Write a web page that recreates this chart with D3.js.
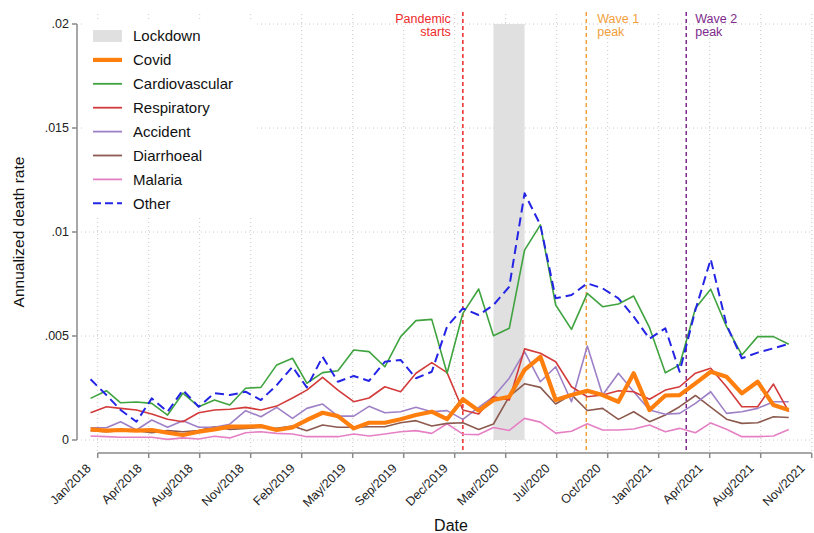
<!DOCTYPE html>
<html>
<head>
<meta charset="utf-8">
<script src="https://cdn.jsdelivr.net/npm/d3@7"></script>
<style>
  html, body { margin: 0; padding: 0; background: #fff; }
  svg { display: block; font-family: "Liberation Sans", Arial, Helvetica, sans-serif; }
</style>
</head>
<body>
<svg id="chart" width="814" height="533"></svg>
<script>
// ---------- DATA (rates shown in units of 1/1000) ----------
const months = [
  "2018-01","2018-02","2018-03","2018-04","2018-05","2018-06","2018-07","2018-08","2018-09","2018-10","2018-11","2018-12",
  "2019-01","2019-02","2019-03","2019-04","2019-05","2019-06","2019-07","2019-08","2019-09","2019-10","2019-11","2019-12",
  "2020-01","2020-02","2020-03","2020-04","2020-05","2020-06","2020-07","2020-08","2020-09","2020-10","2020-11","2020-12",
  "2021-01","2021-02","2021-03","2021-04","2021-05","2021-06","2021-07","2021-08","2021-09","2021-10"
];
const covid = [0.51,0.45,0.48,0.45,0.48,0.35,0.24,0.40,0.51,0.64, 0.64,0.67,0.48,0.61,0.96,1.31,1.15,0.56,0.83,0.83,
  1.00,1.20,1.36,1.00,1.96,1.41,1.92,2.08,3.37,4.00, 1.92,2.16,2.37,2.16,1.84,3.21,1.44,2.14,2.16,2.72, 3.28,3.04,2.24,2.80,1.68,1.44];
const cardiovascular = [2.00,2.37,1.79,1.83,1.76,1.20,2.25,1.60,1.92,1.68, 2.49,2.53,3.61,3.93,2.73,3.24,3.33,4.33,4.25,3.52,
  4.97,5.74,5.80,3.21,6.09,7.26,5.01,5.37,9.13,10.34, 6.49,5.32,7.05,6.41,6.54,6.92,5.40,3.23,3.61,6.33, 7.25,5.45,4.09,4.97,4.97,4.60];
const respiratory = [1.31,1.60,1.52,1.44,1.25,1.00,0.88,1.31,1.44,1.48, 1.57,1.44,1.63,2.02,2.40,3.01,2.40,1.84,2.02,2.56,
  2.32,3.21,3.72,3.24,1.44,1.25,2.08,1.92,4.38,4.17, 3.76,2.56,2.08,2.16,2.37,2.32,1.96,2.40,2.56,3.21, 3.45,2.56,1.60,1.60,2.69,1.36];
const accident = [0.59,0.59,0.88,0.48,0.96,0.61,0.93,0.61,0.61,0.76, 1.41,1.12,1.57,1.04,1.52,1.73,1.15,1.15,1.62,1.31,
  1.36,1.57,1.36,1.41,0.99,1.57,2.08,2.97,4.25,2.80, 3.52,1.84,4.52,2.16,3.21,2.32,1.44,1.24,1.28,1.76, 2.32,1.28,1.36,1.52,1.84,1.84];
const diarrhoeal = [0.45,0.40,0.45,0.45,0.35,0.45,0.40,0.45,0.64,0.51, 0.56,0.61,0.56,0.67,0.45,0.72,0.61,0.61,0.64,0.64,
  0.83,0.93,0.67,0.80,0.83,0.51,0.77,2.10,2.70,2.53, 1.73,2.18,1.42,1.52,0.99,1.36,0.88,1.20,1.60,2.14, 1.58,1.00,0.80,0.83,1.12,1.08];
const malaria = [0.19,0.16,0.13,0.13,0.13,0.03,0.10,0.05,0.18,0.10, 0.35,0.40,0.32,0.29,0.16,0.16,0.16,0.29,0.19,0.29,
  0.40,0.45,0.32,0.78,0.28,0.26,0.60,0.46,1.04,0.86, 0.33,0.42,0.78,0.48,0.48,0.53,0.72,0.40,0.56,0.35, 0.82,0.52,0.16,0.16,0.19,0.51];
const other = [2.92,2.16,1.44,0.88,2.00,1.36,2.40,1.60,2.25,2.16, 2.32,1.92,2.64,3.52,2.53,4.00,2.80,3.08,2.84,3.76,
  3.85,2.97,3.28,5.45,6.33,6.01,6.49,7.37,11.86,10.34, 6.81,6.97,7.53,7.29,6.81,5.93,4.87,5.37,3.28,6.25, 8.69,5.53,3.93,4.20,4.41,4.62];

const seriesNames = ["Covid","Cardiovascular","Respiratory","Accident","Diarrhoeal","Malaria","Other"];
const seriesValues = [covid, cardiovascular, respiratory, accident, diarrhoeal, malaria, other];

const xTickLabels = ["Jan/2018","Apr/2018","Aug/2018","Nov/2018","Feb/2019","May/2019","Sep/2019","Dec/2019",
  "Mar/2020","Jul/2020","Oct/2020","Jan/2021","Apr/2021","Aug/2021","Nov/2021"];
const xTickStart = "2018-01-15";   // ticks every 100 days
const xTickStepDays = 100;
const yTickValues = [0, 0.005, 0.01, 0.015, 0.02];
const yTickLabels = ["0", ".005", ".01", ".015", ".02"];

const lockdown = ["2020-03-01", "2020-05-01"];
const events = [
  {date: "2020-01-01", label: ["Pandemic", "starts"]},
  {date: "2020-08-30", label: ["Wave 1", "peak"]},
  {date: "2021-03-14", label: ["Wave 2", "peak"]}
];

// ---------- STYLES ----------
const colors = {
  Covid: "#ff7f0e", Cardiovascular: "#3fa33f", Respiratory: "#d33b3b", Accident: "#9e80c6",
  Diarrhoeal: "#8c5a4e", Malaria: "#e680c4", Other: "#2424e6"
};
const widths = {Covid: 4.2, Cardiovascular: 1.6, Respiratory: 1.6, Accident: 1.6, Diarrhoeal: 1.6, Malaria: 1.6, Other: 2};
const eventStyles = [
  {color: "#ee2a2a", anchor: "end", dx: -12},
  {color: "#f2a03c", anchor: "start", dx: 11},
  {color: "#7d2a8c", anchor: "start", dx: 9}
];

// ---------- SCALES ----------
const parse = d3.utcParse("%Y-%m-%d");
const parseM = d3.utcParse("%Y-%m");
const t0 = parse(xTickStart);
const tickDates = xTickLabels.map((_, k) => d3.utcDay.offset(t0, k * xTickStepDays));

const x = d3.scaleUtc().domain([tickDates[0], tickDates[tickDates.length - 1]]).range([97.7, 811.7]);
const y = d3.scaleLinear().domain([0, 0.02]).range([440, 24]);
const plotTop = 12, plotBottom = 453, plotLeft = 77, plotRight = 812;

const svg = d3.select("#chart");

// gridlines
const grid = svg.append("g");
grid.selectAll("line.h").data(yTickValues).join("line")
  .attr("x1", plotLeft + 4).attr("x2", plotRight)
  .attr("y1", d => y(d)).attr("y2", d => y(d))
  .attr("stroke", "#c8c8c8").attr("stroke-width", 1).attr("stroke-dasharray", "1,3");
grid.selectAll("line.v").data(tickDates).join("line")
  .attr("x1", d => x(d)).attr("x2", d => x(d))
  .attr("y1", plotTop + 2).attr("y2", plotBottom - 2)
  .attr("stroke", "#c8c8c8").attr("stroke-width", 1).attr("stroke-dasharray", "1,3");

// lockdown band
svg.append("rect")
  .attr("x", x(parse(lockdown[0]))).attr("width", x(parse(lockdown[1])) - x(parse(lockdown[0])))
  .attr("y", y(0.02)).attr("height", y(0) - y(0.02))
  .attr("fill", "#e0e0e0");

// event lines
events.forEach((e, i) => {
  const ex = x(parse(e.date));
  const st = eventStyles[i];
  svg.append("line").attr("x1", ex).attr("x2", ex).attr("y1", plotTop).attr("y2", plotBottom)
    .attr("stroke", st.color).attr("stroke-width", 1.5).attr("stroke-dasharray", "4,3");
  const txt = svg.append("text").attr("fill", st.color).attr("font-size", 12.5)
    .attr("text-anchor", st.anchor);
  e.label.forEach((l, j) => {
    txt.append("tspan").attr("x", ex + st.dx).attr("y", 23 + j * 13).text(l);
  });
});

// series lines
const line = d3.line().x((d, i) => x(parseM(months[i]))).y(d => y(d / 1000));
const order = ["Malaria","Diarrhoeal","Accident","Respiratory","Cardiovascular","Other","Covid"];
order.forEach(name => {
  const vals = seriesValues[seriesNames.indexOf(name)];
  svg.append("path").datum(vals)
    .attr("d", line)
    .attr("fill", "none")
    .attr("stroke", colors[name])
    .attr("stroke-width", widths[name])
    .attr("stroke-linejoin", "round")
    .attr("stroke-dasharray", name === "Other" ? "9,5" : null);
});

// y axis
const yAxis = svg.append("g");
yAxis.append("line").attr("x1", plotLeft).attr("x2", plotLeft).attr("y1", y(0.02)).attr("y2", y(0))
  .attr("stroke", "#8a8a8a").attr("stroke-width", 1.5);
yTickValues.forEach((v, i) => {
  yAxis.append("line").attr("x1", plotLeft - 5).attr("x2", plotLeft).attr("y1", y(v)).attr("y2", y(v))
    .attr("stroke", "#8a8a8a").attr("stroke-width", 1.5);
  yAxis.append("text").attr("x", plotLeft - 8).attr("y", y(v)).attr("dy", "0.35em")
    .attr("text-anchor", "end").attr("font-size", 12.5).attr("fill", "#222").text(yTickLabels[i]);
});

// x axis
const xAxis = svg.append("g");
xAxis.append("line").attr("x1", x(tickDates[0])).attr("x2", x(tickDates[tickDates.length - 1]))
  .attr("y1", plotBottom).attr("y2", plotBottom).attr("stroke", "#8a8a8a").attr("stroke-width", 1.5);
tickDates.forEach((d, i) => {
  const tx = x(d);
  xAxis.append("line").attr("x1", tx).attr("x2", tx).attr("y1", plotBottom).attr("y2", plotBottom + 5)
    .attr("stroke", "#8a8a8a").attr("stroke-width", 1.5);
  xAxis.append("text").attr("transform", `translate(${tx - 6},${plotBottom + 16}) rotate(-45)`)
    .attr("text-anchor", "end").attr("font-size", 12.5).attr("fill", "#222")
    .text(xTickLabels[i]);
});

// axis titles
svg.append("text").attr("transform", "translate(24,232) rotate(-90)").attr("text-anchor", "middle")
  .attr("font-size", 15.5).attr("fill", "#111").text("Annualized death rate");
svg.append("text").attr("x", 451).attr("y", 531).attr("text-anchor", "middle")
  .attr("font-size", 16).attr("fill", "#111").text("Date");

// legend
const legend = svg.append("g");
legend.append("rect").attr("x", 85).attr("y", 22).attr("width", 170).attr("height", 194).attr("fill", "#fff");
const legendItems = ["Lockdown"].concat(seriesNames);
legendItems.forEach((name, i) => {
  const ly = 36 + i * 23.9;
  if (name === "Lockdown") {
    legend.append("rect").attr("x", 93).attr("y", ly - 6).attr("width", 29).attr("height", 12).attr("fill", "#e0e0e0");
  } else {
    legend.append("line").attr("x1", 93).attr("x2", 122).attr("y1", ly).attr("y2", ly)
      .attr("stroke", colors[name]).attr("stroke-width", name === "Covid" ? 4.2 : (name === "Other" ? 2 : 1.8))
      .attr("stroke-dasharray", name === "Other" ? "8,4" : null);
  }
  legend.append("text").attr("x", 133).attr("y", ly).attr("dy", "0.36em").attr("font-size", 15)
    .attr("fill", "#111").text(name);
});
</script>
</body>
</html>
